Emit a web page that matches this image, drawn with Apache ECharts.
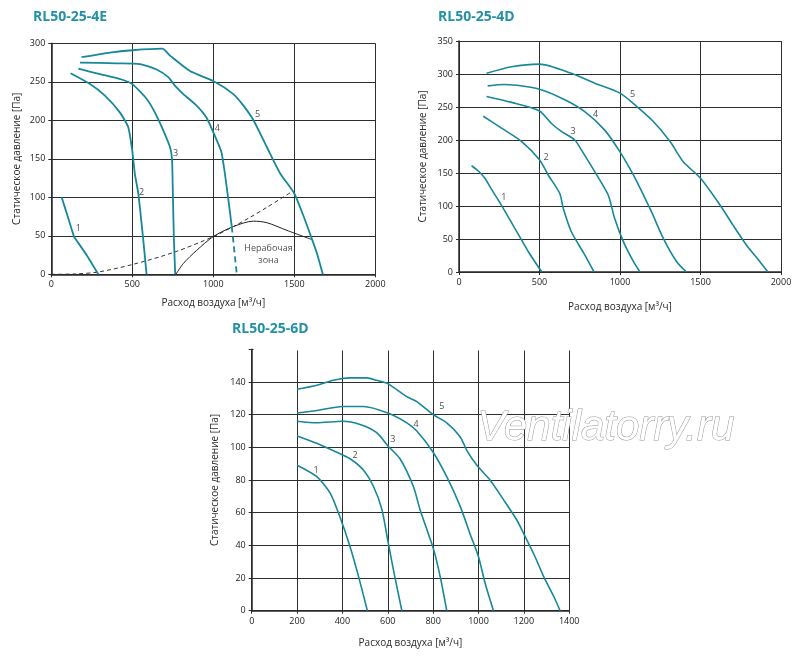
<!DOCTYPE html>
<html>
<head>
<meta charset="utf-8">
<script src="https://cdn.jsdelivr.net/npm/echarts@6/dist/echarts.min.js"></script>
<style>
html,body{margin:0;padding:0;background:#fff;}
#main{width:800px;height:661px;}
</style>
</head>
<body>
<div id="main"></div>
<script>
// ---------- RL50-25-4E ----------
var e4_c1 = [[64,100],[100,76],[140,49],[156,44],[218,25],[290,0]];
var e4_c2 = [[119,261],[239,247],[331,232],[424,210],[475,191],[500,160],[516,130],[537,105],[568,44],[588,0]];
var e4_c3 = [[167,267],[300,260],[434,253],[500,247],[588,228],[640,210],[691,187],[733,165],[745,150],[750,109],[757,44],[765,0]];
var e4_c4 = [[177,275],[403,274],[547,273],[650,266],[722,256],[763,245],[815,234],[897,219],[959,203],[1005,182],[1052,157],[1114,62]];
var e4_c4dash = [[1114,62],[1145,0]];
var e4_c5 = [[187,282],[362,288],[500,291],[685,293],[733,284],[856,264],[1000,251],[1124,234],[1186,219],[1248,200],[1331,165],[1413,131],[1500,105],[1558,75],[1610,45],[1640,27],[1676,0]];
var e4_sys = [[0,0],[150,0.5],[290,3],[506,13],[763,29],[1000,49],[1124,62],[1227,74],[1331,87],[1490,108]];
var e4_zone = [[769,0],[815,14],[897,31],[1000,49],[1124,62],[1248,69],[1331,67],[1455,57],[1610,45]];
var e4_labels = [[167,59,'1'],[558,106,'2'],[767,157,'3'],[1025,189,'4'],[1273,207,'5']];
var e4_zoneText = [[1341,33,'Нерабочая'],[1341,18,'зона']];

// ---------- RL50-25-4D ----------
var d4_c1 = [[78,161],[120,153],[161,142],[200,126],[264,101],[347,66],[430,31],[492,8],[516,0]];
var d4_c2 = [[151,236],[264,218],[388,198],[500,170],[554,147],[626,119],[647,97],[698,61],[781,26],[839,0]];
var d4_c3 = [[171,266],[326,257],[500,244],[574,225],[636,213],[719,200],[760,185],[843,152],[926,117],[967,81],[1021,46],[1083,16],[1124,0]];
var d4_c4 = [[178,282],[285,284],[500,277],[657,261],[781,243],[905,215],[1000,182],[1083,147],[1145,117],[1196,91],[1269,51],[1351,16],[1413,0]];
var d4_c5 = [[171,301],[326,311],[500,315],[698,301],[843,286],[1000,271],[1103,251],[1207,228],[1310,198],[1393,167],[1500,142],[1620,102],[1702,71],[1785,41],[1868,16],[1919,0]];
var d4_labels = [[279,113,'1'],[541,173,'2'],[709,213,'3'],[849,239,'4'],[1078,269,'5']];

// ---------- RL50-25-6D ----------
var d6_c1 = [[200,89],[287,82],[346,72],[390,57],[434,39],[471,21],[510,0]];
var d6_c2 = [[200,107],[287,102.5],[375,97],[434,93],[493,86],[537,76],[574,62],[600,43],[625,25],[662,0]];
var d6_c3 = [[200,116],[287,115],[400,116],[478,114],[551,109],[600,101],[654,93],[713,76],[742,62],[801,38],[831,21],[860,0]];
var d6_c4 = [[200,121],[287,122.5],[400,125],[493,125],[600,121],[684,115],[728,110],[800,97],[860,82],[919,64],[963,47],[1000,33],[1029,17],[1066,0]];
var d6_c5 = [[200,135.5],[287,138],[360,141],[434,142.5],[508,142.5],[551,141],[600,139],[684,131],[728,128],[800,120],[860,115],[919,106.5],[949,98],[993,89],[1051,80],[1110,68],[1169,55.5],[1200,47],[1243,35],[1287,21],[1331,9],[1360,0]];
var d6_labels = [[284,86,'1'],[456,95,'2'],[622,105,'3'],[725,114,'4'],[838,125,'5']];

// tick settings
var xMax = [2000, 2000, 1400], xStep = [500, 500, 200];
var yMax = [300, 350, 160], yStep = [50, 50, 20];

var TEAL = '#17879a';
var FONT = '"Open Sans", "Noto Sans", sans-serif';

var chart = echarts.init(document.getElementById('main'), null, {renderer:'canvas'});

var grids = [
  {left:51.3, top:43.3, width:324, height:231},
  {left:459, top:41, width:322, height:231},
  {left:251.7, top:349.3, width:317.5, height:261.4}
];

function xAx(i){
  return {
    gridIndex:i, type:'value', min:0, max:xMax[i], interval:xStep[i],
    name:'Расход воздуха [м³/ч]', nameLocation:'middle', nameGap:[24,30,27][i],
    nameTextStyle:{fontSize:10, color:'#2a2a2a', fontFamily:FONT},
    axisLine:{show:true, onZero:false, lineStyle:{color:'#2a2a2a', width:1.5}},
    axisTick:{show:true, length:3, lineStyle:{color:'#2a2a2a'}},
    axisLabel:{fontSize:9, color:'#222', margin:6, fontFamily:FONT,
      formatter:function(v){ return String(v); }},
    splitLine:{show:true, lineStyle:{color:'#2e2e2e', width:1}}
  };
}
function yAx(i){
  return {
    gridIndex:i, type:'value', min:0, max:yMax[i], interval:yStep[i],
    name:'Статическое давление [Па]', nameLocation:'middle', nameGap:[29,31,32][i],
    nameTextStyle:{fontSize:10, color:'#2a2a2a', fontFamily:FONT},
    axisLine:{show:true, onZero:false, lineStyle:{color:'#2a2a2a', width:1.5}},
    axisTick:{show:true, length:3, lineStyle:{color:'#2a2a2a'}},
    axisLabel:{fontSize:9, color:'#222', margin:6, fontFamily:FONT,
      formatter:function(v){ return (i===2 && v===160) ? '' : String(v); }},
    splitLine:{show:true, lineStyle:{color:'#2e2e2e', width:1}}
  };
}

function curve(data, g, opts){
  opts = opts || {};
  return {
    type:'line', xAxisIndex:g, yAxisIndex:g, data:data, symbol:'none',
    smooth: opts.smooth !== undefined ? opts.smooth : 0.25,
    lineStyle:{color: opts.color || TEAL, width: opts.width || 1.6, type: opts.type || 'solid'},
    silent:true, z: opts.z || 3, animation:false
  };
}
function labels(data, g, size){
  return {
    type:'scatter', xAxisIndex:g, yAxisIndex:g, data:data, symbolSize:0,
    label:{show:true, position:'inside', formatter:function(p){return p.value[2];},
      fontSize:size||9, color:'#222', fontFamily:FONT},
    silent:true, z:5, animation:false
  };
}

var series = [
  curve(e4_c1,0,{width:1.8, smooth:0.1}), curve(e4_c2,0,{width:1.8, smooth:0.2}),
  curve(e4_c3,0,{width:1.8, smooth:0.2}), curve(e4_c4,0,{width:1.8, smooth:0.2}),
  curve(e4_c4dash,0,{width:1.8, type:[6,4], smooth:false}), curve(e4_c5,0,{width:1.8, smooth:0.2}),
  curve(e4_sys,0,{color:'#333', width:1, type:[4,3], smooth:0.3, z:2}),
  curve(e4_zone,0,{color:'#222', width:1, smooth:0.3, z:2}),
  labels(e4_labels,0), labels(e4_zoneText,0),
  curve(d4_c1,1), curve(d4_c2,1), curve(d4_c3,1), curve(d4_c4,1), curve(d4_c5,1),
  labels(d4_labels,1),
  curve(d6_c1,2), curve(d6_c2,2), curve(d6_c3,2), curve(d6_c4,2), curve(d6_c5,2),
  labels(d6_labels,2)
];

chart.setOption({
  backgroundColor:'#ffffff',
  animation:false,
  grid:grids,
  xAxis:[xAx(0),xAx(1),xAx(2)],
  yAxis:[yAx(0),yAx(1),yAx(2)],
  series:series,
  graphic:[
    {type:'text', left:33, top:10, style:{text:'RL50-25-4E', font:'bold 14px "Open Sans", sans-serif', fill:'#2391a3'}},
    {type:'text', left:438, top:10, style:{text:'RL50-25-4D', font:'bold 14px "Open Sans", sans-serif', fill:'#2391a3'}},
    {type:'text', left:232, top:322, style:{text:'RL50-25-6D', font:'bold 14px "Open Sans", sans-serif', fill:'#2391a3'}},
    {type:'rect', shape:{x:253.5, y:347.5, width:317, height:3}, style:{fill:'#ffffff'}, z:10, silent:true},
    {type:'text', left:477, top:407, z:20, silent:true,
      style:{text:'Ventilatorry.ru', font:'italic 42px "Liberation Sans", sans-serif', fill:'#ffffff', stroke:'#979797', lineWidth:1}}
  ]
});
</script>
</body>
</html>
